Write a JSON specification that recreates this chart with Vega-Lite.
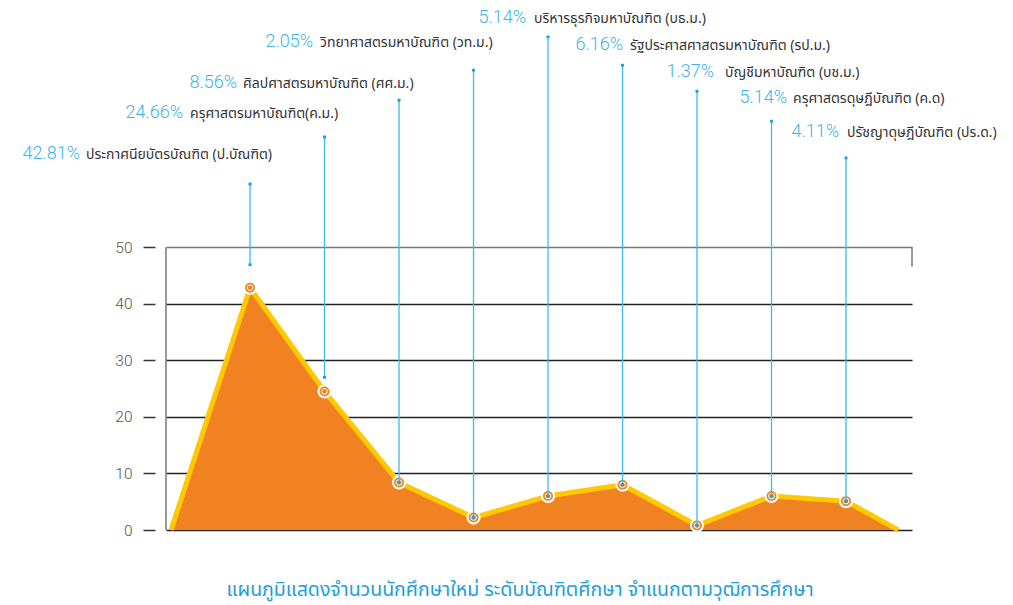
{
  "$schema": "https://vega.github.io/schema/vega-lite/v6.json",
  "width": 746,
  "height": 530,
  "autosize": {"type": "none"},
  "padding": {"left": 166, "top": 0, "right": 101, "bottom": 75},
  "background": "white",
  "config": {"view": {"stroke": null}},
  "title": {
    "text": "แผนภูมิแสดงจำนวนนักศึกษาใหม่ ระดับบัณฑิตศึกษา จำแนกตามวุฒิการศึกษา",
    "orient": "bottom",
    "anchor": "middle",
    "offset": 42,
    "dx": -19,
    "fontSize": 19.5,
    "fontWeight": "normal",
    "color": "#1E9EDC",
    "font": "Noto Sans Thai, Noto Sans, sans-serif"
  },
  "datasets": {
    "outline": [
      {"i": -0.06, "v": 0},
      {"i": 1, "v": 42.85},
      {"i": 2, "v": 24.5},
      {"i": 3, "v": 8.4},
      {"i": 4, "v": 2.2},
      {"i": 5, "v": 6.0},
      {"i": 6, "v": 8.0},
      {"i": 7, "v": 0.8},
      {"i": 8, "v": 6.0},
      {"i": 9, "v": 5.1},
      {"i": 9.7, "v": 0}
    ],
    "points": [
      {"i": 1, "v": 42.85, "top": 61.2, "bottom": 46.9, "pct": "42.81%", "name": "ประกาศนียบัตรบัณฑิต (ป.บัณฑิต)", "ly": 65.6, "px": -1.282, "nx": -1.201},
      {"i": 2, "v": 24.5, "top": 69.5, "bottom": 27.0, "pct": "24.66%", "name": "ครุศาสตรมหาบัณฑิต(ค.ม.)", "ly": 72.8, "px": 0.101, "nx": 0.195},
      {"i": 3, "v": 8.4, "top": 76.0, "bottom": 8.4, "pct": "8.56%", "name": "ศิลปศาสตรมหาบัณฑิต (ศศ.ม.)", "ly": 78.2, "px": 0.826, "nx": 0.906},
      {"i": 4, "v": 2.2, "top": 81.3, "bottom": 2.2, "pct": "2.05%", "name": "วิทยาศาสตรมหาบัณฑิต (วท.ม.)", "ly": 85.4, "px": 1.846, "nx": 1.94},
      {"i": 5, "v": 6.0, "top": 87.2, "bottom": 6.0, "pct": "5.14%", "name": "บริหารธุรกิจมหาบัณฑิต (บธ.ม.)", "ly": 89.7, "px": 4.705, "nx": 4.812},
      {"i": 6, "v": 8.0, "top": 82.2, "bottom": 8.0, "pct": "6.16%", "name": "รัฐประศาสศาสตรมหาบัณฑิต (รป.ม.)", "ly": 84.9, "px": 6.007, "nx": 6.101},
      {"i": 7, "v": 0.8, "top": 77.6, "bottom": 0.8, "pct": "1.37%", "name": "บัญชีมหาบัณฑิต (บช.ม.)", "ly": 80.1, "px": 7.228, "nx": 7.376},
      {"i": 8, "v": 6.0, "top": 72.3, "bottom": 6.0, "pct": "5.14%", "name": "ครุศาสตรดุษฎีบัณฑิต (ค.ด)", "ly": 75.5, "px": 8.208, "nx": 8.289},
      {"i": 9, "v": 5.1, "top": 65.8, "bottom": 5.1, "pct": "4.11%", "name": "ปรัชญาดุษฎีบัณฑิต (ปร.ด.)", "ly": 69.5, "px": 8.906, "nx": 9.013}
    ]
  },
  "layer": [
    {
      "data": {"name": "outline"},
      "mark": {"type": "area", "color": "#F08222", "opacity": 1},
      "encoding": {
        "x": {"field": "i", "type": "quantitative", "scale": {"domain": [-0.128, 9.886], "nice": false, "zero": false}, "axis": null},
        "y": {
          "field": "v", "type": "quantitative",
          "scale": {"domain": [0, 93.72], "nice": false, "zero": true},
          "axis": {
            "values": [0, 10, 20, 30, 40, 50],
            "offset": 11,
            "domain": false,
            "tickSize": 12,
            "tickColor": "#333333",
            "tickWidth": 1.5,
            "labelPadding": 11,
            "labelFontSize": 15.5,
            "labelColor": "#555555",
            "labelFont": "Roboto",
            "labelFontWeight": 300,
            "grid": true,
            "gridColor": {"condition": {"test": "datum.value == 50", "value": "#777777"}, "value": "#222222"},
            "gridWidth": 1.3,
            "gridOpacity": 1,
            "title": null
          }
        }
      }
    },
    {
      "data": {"name": "outline"},
      "mark": {"type": "line", "color": "#FFC800", "strokeWidth": 5, "strokeJoin": "round"},
      "encoding": {
        "x": {"field": "i", "type": "quantitative"},
        "y": {"field": "v", "type": "quantitative"}
      }
    },
    {
      "data": {"values": [{}]},
      "mark": {"type": "rule", "color": "#777777", "strokeWidth": 1.5},
      "encoding": {
        "x": {"datum": -0.128, "type": "quantitative"},
        "y": {"datum": 0, "type": "quantitative"},
        "y2": {"datum": 50}
      }
    },
    {
      "data": {"values": [{}]},
      "mark": {"type": "rule", "color": "#777777", "strokeWidth": 1.5},
      "encoding": {
        "x": {"datum": 9.886, "type": "quantitative"},
        "y": {"datum": 46.6, "type": "quantitative"},
        "y2": {"datum": 50}
      }
    },
    {
      "data": {"name": "points"},
      "mark": {"type": "point", "filled": true, "shape": "circle", "color": "white", "size": 200, "opacity": 1},
      "encoding": {
        "x": {"field": "i", "type": "quantitative"},
        "y": {"field": "v", "type": "quantitative"}
      }
    },
    {
      "data": {"name": "points"},
      "mark": {"type": "point", "filled": true, "shape": "circle", "color": "#F08222", "size": 100, "opacity": 1},
      "encoding": {
        "x": {"field": "i", "type": "quantitative"},
        "y": {"field": "v", "type": "quantitative"}
      }
    },
    {
      "data": {"name": "points"},
      "mark": {"type": "point", "filled": true, "shape": "circle", "fill": "#F08222", "stroke": "white", "strokeWidth": 1, "size": 32, "opacity": 1},
      "encoding": {
        "x": {"field": "i", "type": "quantitative"},
        "y": {"field": "v", "type": "quantitative"}
      }
    },
    {
      "data": {"name": "points"},
      "mark": {"type": "rule", "color": "#3DBBEA", "strokeWidth": 1.3},
      "encoding": {
        "x": {"field": "i", "type": "quantitative"},
        "y": {"field": "top", "type": "quantitative"},
        "y2": {"field": "bottom"}
      }
    },
    {
      "data": {"name": "points"},
      "mark": {"type": "point", "filled": true, "shape": "circle", "color": "#1AA3DD", "size": 12, "opacity": 1},
      "encoding": {
        "x": {"field": "i", "type": "quantitative"},
        "y": {"field": "top", "type": "quantitative"}
      }
    },
    {
      "data": {"name": "points"},
      "mark": {"type": "point", "filled": true, "shape": "circle", "color": "#1AA3DD", "size": 12, "opacity": 1},
      "encoding": {
        "x": {"field": "i", "type": "quantitative"},
        "y": {"field": "bottom", "type": "quantitative"}
      }
    },
    {
      "data": {"name": "points"},
      "mark": {"type": "text", "align": "right", "baseline": "alphabetic", "fontSize": 18, "font": "Roboto", "fontWeight": 300, "color": "#3CB4E6"},
      "encoding": {
        "x": {"field": "px", "type": "quantitative"},
        "y": {"field": "ly", "type": "quantitative"},
        "text": {"field": "pct"}
      }
    },
    {
      "data": {"name": "points"},
      "mark": {"type": "text", "align": "left", "baseline": "alphabetic", "fontSize": 14, "font": "Noto Sans Thai, Noto Sans, sans-serif", "color": "#333333"},
      "encoding": {
        "x": {"field": "nx", "type": "quantitative"},
        "y": {"field": "ly", "type": "quantitative"},
        "text": {"field": "name"}
      }
    }
  ]
}
